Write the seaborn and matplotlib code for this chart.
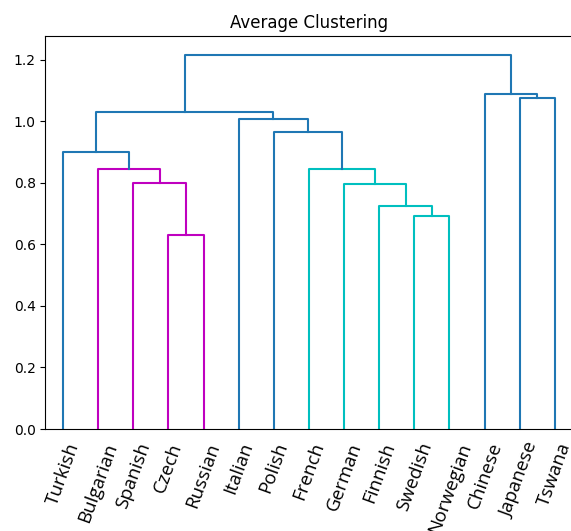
import numpy as np
import pandas as pd
import matplotlib
matplotlib.use('Agg')
import matplotlib.pyplot as plt
import seaborn as sns

# 잎(언어) 순서 - 그림의 왼쪽부터
labels = ['Turkish', 'Bulgarian', 'Spanish', 'Czech', 'Russian', 'Italian', 'Polish',
          'French', 'German', 'Finnish', 'Swedish', 'Norwegian', 'Chinese', 'Japanese', 'Tswana']

# 병합 (왼쪽 노드, 오른쪽 노드, 높이) - 새 노드 번호는 15부터
merge_left = [3, 10, 9, 2, 8, 1, 7, 0, 6, 5, 22, 13, 12, 25]
merge_right = [4, 11, 16, 15, 17, 18, 19, 20, 21, 23, 24, 14, 26, 27]
merge_height = [0.631, 0.693, 0.724, 0.798, 0.795, 0.845, 0.845, 0.899, 0.966, 1.009,
                1.031, 1.077, 1.090, 1.216]

cluster_palette = ['m', 'c']
above_color = '#1f77b4'

plt.rcParams['font.family'] = ['DejaVu Sans']

n = len(labels)
xpos = {i: 5 + 10 * i for i in range(n)}
hpos = {i: 0.0 for i in range(n)}
children = {}
for k, (l, r, h) in enumerate(zip(merge_left, merge_right, merge_height)):
    node = n + k
    children[node] = (l, r)
    xpos[node] = (xpos[l] + xpos[r]) / 2
    hpos[node] = h

threshold = 0.7 * max(merge_height)

# 임계값 아래 서브트리에 색 지정 (왼쪽부터 순서대로)
link_color = {}
color_idx = [0]

def paint(node, color):
    if node < n:
        return
    link_color[node] = color
    for c in children[node]:
        paint(c, color)

def assign(node):
    if node < n:
        return
    if hpos[node] < threshold:
        paint(node, cluster_palette[color_idx[0] % len(cluster_palette)])
        color_idx[0] += 1
    else:
        link_color[node] = above_color
        for c in sorted(children[node], key=lambda c: xpos[c]):
            assign(c)

root = n + len(merge_height) - 1
assign(root)

rows = []
for node, (l, r) in children.items():
    xs = [xpos[l], xpos[l], xpos[r], xpos[r]]
    ys = [hpos[l], hpos[node], hpos[node], hpos[r]]
    for i, (x, y) in enumerate(zip(xs, ys)):
        rows.append({'link': node, 'order': i, 'x': x, 'y': y, 'color': link_color[node]})
links = pd.DataFrame(rows)

fig = plt.figure(figsize=(5.71, 5.31), dpi=100)
ax = fig.add_axes([0.0795, 0.192, 0.923, 0.740])

sns.lineplot(data=links, x='x', y='y', units='link', hue='color',
             palette={c: c for c in links['color'].unique()},
             estimator=None, sort=False, legend=False, linewidth=1.5, ax=ax)

ax.set_xlim(0, 10 * n)
ax.set_ylim(0, max(merge_height) * 1.05)
ax.set_xticks([5 + 10 * i for i in range(n)])
ax.set_xticklabels(labels, rotation=70, fontsize=13.5, ha='center', family=['Open Sans'])
ax.tick_params(axis='x', length=0, pad=8)
ax.set_xlabel('')
ax.set_ylabel('')
ax.set_title('Average Clustering', fontsize=12)

fig.savefig('out.png', dpi=100)
